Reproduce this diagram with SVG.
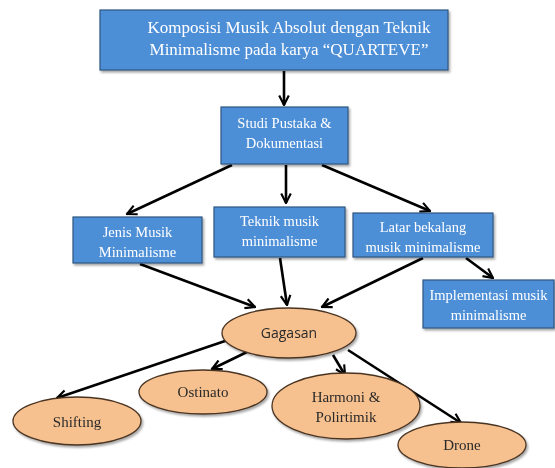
<svg xmlns="http://www.w3.org/2000/svg" width="555" height="468" viewBox="0 0 555 468">
<style>
.box{fill:#4e8fd7;stroke:#2f5580;stroke-width:1.2}
.ell{fill:#f7c08f;stroke:#4a3422;stroke-width:1.3}
.bt{font-family:"Liberation Serif","Times New Roman",serif;fill:#ffffff;text-anchor:middle}
.et{font-family:"Liberation Serif","Times New Roman",serif;fill:#2a2a2a;text-anchor:middle;font-size:15px}
.edge{stroke:#000;stroke-width:2.6;fill:none;marker-end:url(#ah)}
</style>
<defs>
<marker id="ah" viewBox="0 0 10 10" refX="9" refY="5" markerWidth="4.6" markerHeight="4.6" orient="auto" markerUnits="strokeWidth">
<polyline points="1,1 9,5 1,9" fill="none" stroke="#000" stroke-width="1.8"/>
</marker>
<filter id="sh" x="-10%" y="-10%" width="130%" height="140%">
<feDropShadow dx="1.5" dy="2" stdDeviation="1.2" flood-color="#000" flood-opacity="0.35"/>
</filter>
</defs>
<rect width="555" height="468" fill="#ffffff"/>
<g id="connectors">
<line class="edge" x1="284" y1="71" x2="284" y2="105"/>
<line class="edge" x1="232" y1="165" x2="127" y2="214"/>
<line class="edge" x1="286" y1="165" x2="286" y2="203"/>
<line class="edge" x1="322" y1="165" x2="430" y2="211"/>
<line class="edge" x1="140" y1="264" x2="255" y2="307"/>
<line class="edge" x1="280" y1="258" x2="287" y2="305"/>
<line class="edge" x1="423" y1="258" x2="322" y2="307"/>
<line class="edge" x1="466" y1="258" x2="493" y2="278"/>
<line class="edge" x1="228" y1="340" x2="57" y2="398"/>
<line class="edge" x1="247" y1="352" x2="212" y2="369"/>
<line class="edge" x1="333" y1="355" x2="345" y2="375"/>
<line class="edge" x1="348" y1="350" x2="461" y2="423"/>
</g>
<g id="n-top" filter="url(#sh)">
<rect class="box" x="100" y="10" width="348" height="60"/>
<text class="bt" font-size="17" x="289" y="33">Komposisi Musik Absolut dengan Teknik</text>
<text class="bt" font-size="17" x="289" y="55">Minimalisme pada karya “QUARTEVE”</text>
</g>
<g id="n-studi" filter="url(#sh)">
<rect class="box" x="221" y="107" width="127" height="57"/>
<text class="bt" font-size="14.5" x="284.5" y="128">Studi Pustaka &amp;</text>
<text class="bt" font-size="14.5" x="284.5" y="148">Dokumentasi</text>
</g>
<g id="n-jenis" filter="url(#sh)">
<rect class="box" x="73" y="217" width="129" height="46"/>
<text class="bt" font-size="14.5" x="137.5" y="237">Jenis Musik</text>
<text class="bt" font-size="14.5" x="137.5" y="257">Minimalisme</text>
</g>
<g id="n-teknik" filter="url(#sh)">
<rect class="box" x="214" y="207" width="131" height="50"/>
<text class="bt" font-size="14.5" x="279.5" y="226">Teknik musik</text>
<text class="bt" font-size="14.5" x="279.5" y="246">minimalisme</text>
</g>
<g id="n-latar" filter="url(#sh)">
<rect class="box" x="353" y="213" width="140" height="44"/>
<text class="bt" font-size="14.5" x="423" y="232">Latar bekalang</text>
<text class="bt" font-size="14.5" x="423" y="252">musik minimalisme</text>
</g>
<g id="n-impl" filter="url(#sh)">
<rect class="box" x="423" y="280" width="131" height="48"/>
<text class="bt" font-size="14.5" x="488.5" y="300">Implementasi musik</text>
<text class="bt" font-size="14.5" x="488.5" y="320">minimalisme</text>
</g>
<g id="n-gagasan" filter="url(#sh)">
<ellipse class="ell" cx="289" cy="333" rx="67" ry="25"/>
<text x="289" y="338" text-anchor="middle" font-family="'Open Sans','Noto Sans',sans-serif" font-size="14" fill="#2a2a2a">Gagasan</text>
</g>
<g id="n-shifting" filter="url(#sh)">
<ellipse class="ell" cx="77" cy="421" rx="64" ry="24"/>
<text class="et" x="77" y="427">Shifting</text>
</g>
<g id="n-ostinato" filter="url(#sh)">
<ellipse class="ell" cx="203" cy="392" rx="64" ry="22"/>
<text class="et" x="203" y="397">Ostinato</text>
</g>
<g id="n-harmoni" filter="url(#sh)">
<ellipse class="ell" cx="346" cy="406" rx="74" ry="33"/>
<text class="et" x="346" y="402">Harmoni &amp;</text>
<text class="et" x="346" y="422">Polirtimik</text>
</g>
<g id="n-drone" filter="url(#sh)">
<ellipse class="ell" cx="462" cy="445" rx="64" ry="23"/>
<text class="et" x="462" y="450">Drone</text>
</g>
</svg>
